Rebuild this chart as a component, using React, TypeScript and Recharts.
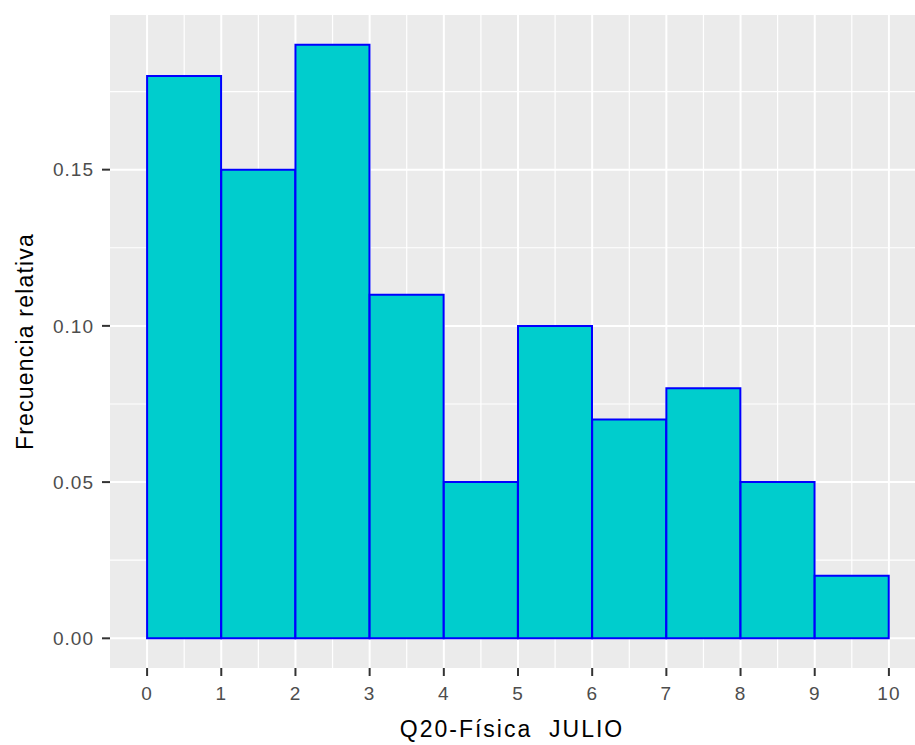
import { ComposedChart, Bar, XAxis, YAxis, CartesianGrid } from "recharts";

// histogram bins (width 1), relative frequency per bin
const binMids = [0.5, 1.5, 2.5, 3.5, 4.5, 5.5, 6.5, 7.5, 8.5, 9.5];
const freqs = [0.18, 0.15, 0.19, 0.11, 0.05, 0.1, 0.07, 0.08, 0.05, 0.02];

const xTicks = [0, 1, 2, 3, 4, 5, 6, 7, 8, 9, 10];
const yTicks = [0, 0.05, 0.1, 0.15];
const xMinor = [0.5, 1.5, 2.5, 3.5, 4.5, 5.5, 6.5, 7.5, 8.5, 9.5];
const yMinor = [0.025, 0.075, 0.125, 0.175];

const data = binMids.map((x, i) => ({ x, freq: freqs[i] }));

const FONT = "'Liberation Sans', Arial, sans-serif";
const tickStyle = { fill: "#4D4D4D", fontSize: 19, fontFamily: FONT, letterSpacing: 1 };

export default function App() {
  return (
    <div
      style={{
        position: "fixed",
        left: 0,
        top: 0,
        width: 915,
        height: 745,
        overflow: "hidden",
        background: "#fff",
      }}
    >
      <ComposedChart
        width={930}
        height={745}
        data={data}
        margin={{ top: 15, right: 4, bottom: 0, left: 0 }}
        barCategoryGap={0}
        barGap={0}
      >
        <CartesianGrid
          fill="#EBEBEB"
          stroke="#FFFFFF"
          strokeWidth={1.2}
          horizontalValues={yMinor}
          verticalValues={xMinor}
        />
        <CartesianGrid
          stroke="#FFFFFF"
          strokeWidth={2}
          horizontalValues={yTicks}
          verticalValues={xTicks}
        />
        <XAxis
          dataKey="x"
          type="number"
          domain={[-0.5, 10.5]}
          allowDataOverflow
          ticks={xTicks}
          interval={0}
          height={77}
          axisLine={false}
          tickLine={{ stroke: "#333333", strokeWidth: 2 }}
          tickSize={8}
          tickMargin={11}
          tick={tickStyle}
          label={({ viewBox }: any) => (
            <text
              x={512}
              y={viewBox.y + 69}
              textAnchor="middle"
              fill="#000"
              fontSize={23}
              fontFamily={FONT}
              letterSpacing={2}
              style={{ whiteSpace: "pre" }}
            >
              Q20-Física  JULIO
            </text>
          )}
        />
        <YAxis
          type="number"
          domain={[-0.0095, 0.1995]}
          allowDataOverflow
          ticks={yTicks}
          width={110}
          axisLine={false}
          tickLine={{ stroke: "#333333", strokeWidth: 2 }}
          tickSize={8}
          tickMargin={8}
          tick={tickStyle}
          tickFormatter={(v: number) => v.toFixed(2)}
          label={({ viewBox }: any) => {
            const cy = viewBox.y + viewBox.height / 2;
            return (
              <text
                x={33}
                y={cy}
                transform={`rotate(-90, 33, ${cy})`}
                textAnchor="middle"
                fill="#000"
                fontSize={23}
                fontFamily={FONT}
                letterSpacing={1.2}
              >
                Frecuencia relativa
              </text>
            );
          }}
        />
        <Bar
          dataKey="freq"
          fill="#00CDCD"
          stroke="#0000FF"
          strokeWidth={2}
          isAnimationActive={false}
        />
      </ComposedChart>
    </div>
  );
}
